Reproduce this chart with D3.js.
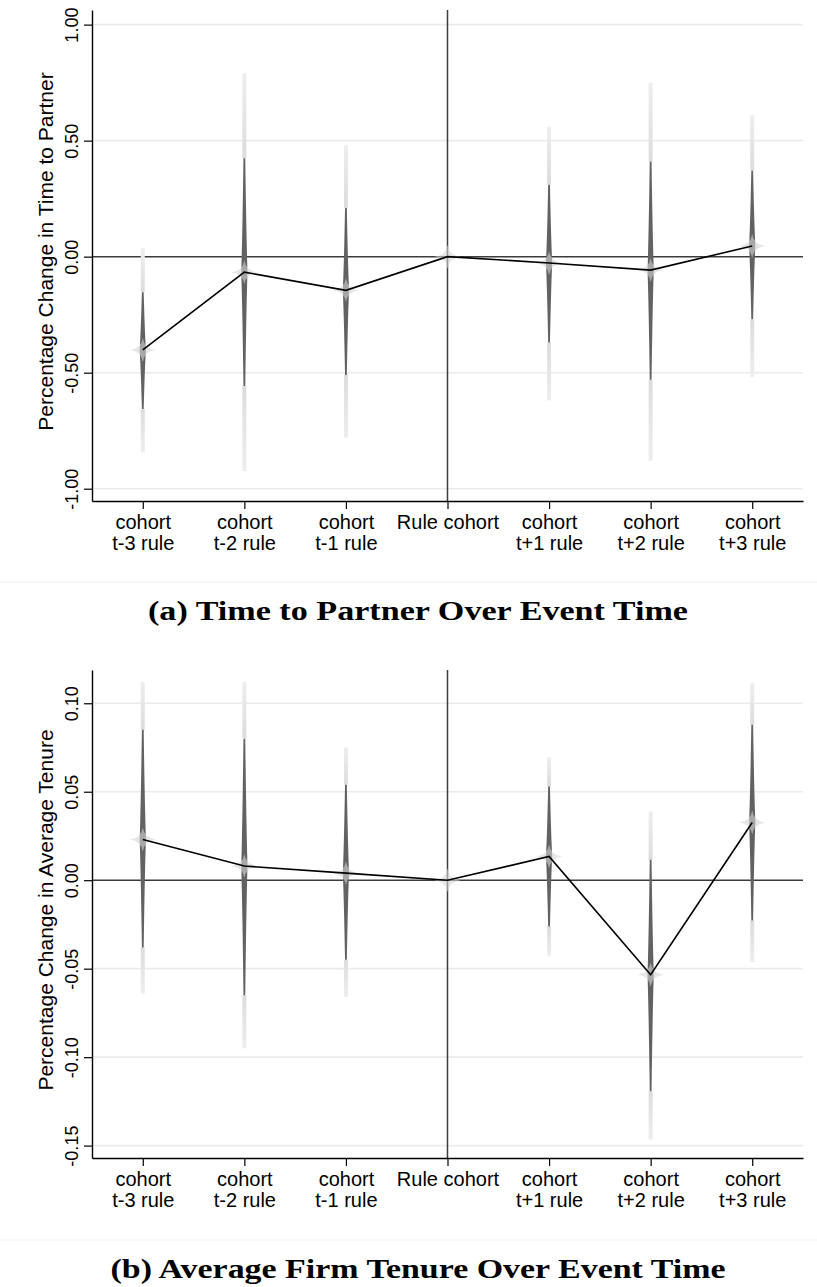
<!DOCTYPE html>
<html>
<head>
<meta charset="utf-8">
<script src="https://cdn.jsdelivr.net/npm/d3@7"></script>
<style>
  body { margin: 0; background: #fff; }
  svg { display: block; }
  .sans { font-family: "Liberation Sans", Arial, Helvetica, sans-serif; fill: #000; }
</style>
</head>
<body>
<div id="figure"></div>
<script>
// x categories (two label lines each)
const cohortPos = [1, 2, 3, 4, 5, 6, 7];
const cohortLine1 = ['cohort', 'cohort', 'cohort', 'Rule cohort', 'cohort', 'cohort', 'cohort'];
const cohortLine2 = ['t-3 rule', 't-2 rule', 't-1 rule', '', 't+1 rule', 't+2 rule', 't+3 rule'];

// panel (a): time to partner
const partnerTicks = [-1, -0.5, 0, 0.5, 1];
const partnerEst    = [-0.402, -0.067, -0.145, 0, -0.027, -0.058, 0.046];
const partnerDarkLo = [-0.657, -0.557, -0.510, 0, -0.370, -0.530, -0.270];
const partnerDarkHi = [-0.153,  0.424,  0.210, 0,  0.310,  0.410,  0.370];
const partnerLightLo = [-0.843, -0.924, -0.780, 0, -0.620, -0.880, -0.520];
const partnerLightHi = [ 0.036,  0.790,  0.480, 0,  0.560,  0.750,  0.610];

// panel (b): average firm tenure
const tenureTicks = [-0.15, -0.10, -0.05, 0, 0.05, 0.10];
const tenureEst    = [0.023, 0.008, 0.004, 0, 0.0134, -0.0534, 0.0326];
const tenureDarkLo = [-0.038, -0.065, -0.045, 0, -0.0261, -0.1193, -0.0228];
const tenureDarkHi = [ 0.085,  0.080,  0.054, 0,  0.0529,  0.0115,  0.0878];
const tenureLightLo = [-0.064, -0.095, -0.066, 0, -0.0427, -0.1466, -0.0463];
const tenureLightHi = [ 0.112,  0.112,  0.075, 0,  0.0695,  0.0388,  0.1113];

const W = 817, H = 1287;

const svg = d3.select('#figure').append('svg')
    .attr('width', W)
    .attr('height', H);

// light gray fades for the outer interval
const defs = svg.append('defs');
function addFade(id, from, to) {
    const g = defs.append('linearGradient').attr('id', id)
        .attr('x1', 0).attr('y1', 0).attr('x2', 0).attr('y2', 1);
    g.append('stop').attr('offset', '0%').attr('stop-color', from);
    g.append('stop').attr('offset', '100%').attr('stop-color', to);
}
addFade('fadeUp', '#eeeeee', '#dcdcdc');
addFade('fadeDown', '#dcdcdc', '#eeeeee');

function spikePath(cx, yt, yp, yb) {
    const e = 0.9, m = 3.1, c = 1.9;
    return `M${cx - e},${yt} L${cx + e},${yt}`
        + ` Q${cx + c},${yp - (yp - yt) * 0.35} ${cx + m},${yp}`
        + ` Q${cx + c},${yp + (yb - yp) * 0.35} ${cx + e},${yb}`
        + ` L${cx - e},${yb}`
        + ` Q${cx - c},${yp + (yb - yp) * 0.35} ${cx - m},${yp}`
        + ` Q${cx - c},${yp - (yp - yt) * 0.35} ${cx - e},${yt} Z`;
}

function starPath(cx, cy) {
    const h = 13, v = 12, k = 1.5;
    return `M${cx - h},${cy} Q${cx - k},${cy - k} ${cx},${cy - v}`
        + ` Q${cx + k},${cy - k} ${cx + h},${cy}`
        + ` Q${cx + k},${cy + k} ${cx},${cy + v}`
        + ` Q${cx - k},${cy + k} ${cx - h},${cy} Z`;
}

function drawPanel(cfg) {
    const x = d3.scaleLinear().domain([0.5, 7.5]).range([92, 803]);
    const y = d3.scaleLinear().domain(cfg.yDomain).range([cfg.bottom, cfg.top]);
    const g = svg.append('g');

    // grid
    g.selectAll('.grid')
        .data(cfg.ticks.filter(d => d !== 0))
        .enter().append('line')
        .attr('class', 'grid')
        .attr('x1', x(0.5)).attr('x2', x(7.5))
        .attr('y1', d => y(d)).attr('y2', d => y(d))
        .attr('stroke', '#ebebeb')
        .attr('stroke-width', 1.6);

    // reference lines
    g.append('line')
        .attr('x1', x(0.5)).attr('x2', x(7.5))
        .attr('y1', y(0)).attr('y2', y(0))
        .attr('stroke', '#3c3c3c').attr('stroke-width', 1.5);
    g.append('line')
        .attr('x1', x(4)).attr('x2', x(4))
        .attr('y1', cfg.top).attr('y2', cfg.bottom)
        .attr('stroke', '#3c3c3c').attr('stroke-width', 1.5);

    const rows = cohortPos.map((p, i) => ({
        p: p, est: cfg.est[i],
        dLo: cfg.darkLo[i], dHi: cfg.darkHi[i],
        lLo: cfg.lightLo[i], lHi: cfg.lightHi[i]
    }));

    // outer interval, light bars
    g.selectAll('.lightUp')
        .data(rows.filter(d => d.lHi > d.dHi))
        .enter().append('rect')
        .attr('x', d => x(d.p) - 2).attr('width', 4)
        .attr('y', d => y(d.lHi))
        .attr('height', d => y(d.dHi) - y(d.lHi))
        .attr('fill', 'url(#fadeUp)');
    g.selectAll('.lightDown')
        .data(rows.filter(d => d.lLo < d.dLo))
        .enter().append('rect')
        .attr('x', d => x(d.p) - 2).attr('width', 4)
        .attr('y', d => y(d.dLo))
        .attr('height', d => y(d.lLo) - y(d.dLo))
        .attr('fill', 'url(#fadeDown)');

    // inner interval, dark tapered spikes
    g.selectAll('.spike')
        .data(rows.filter(d => d.dHi > d.dLo))
        .enter().append('path')
        .attr('d', d => spikePath(x(d.p), y(d.dHi), y(d.est), y(d.dLo)))
        .attr('fill', '#626262');

    // glow at the point estimate
    g.selectAll('.star')
        .data(rows)
        .enter().append('path')
        .attr('d', d => starPath(x(d.p), y(d.est)))
        .attr('fill', '#d6d6d6')
        .attr('opacity', 0.6);

    // connecting line
    const line = d3.line()
        .x(d => x(d.p))
        .y(d => y(d.est));
    g.append('path')
        .attr('d', line(rows))
        .attr('fill', 'none')
        .attr('stroke', '#000')
        .attr('stroke-width', 1.6);

    // y axis
    const yAxis = g.append('g')
        .attr('transform', 'translate(' + x(0.5) + ',0)')
        .call(d3.axisLeft(y).tickValues(cfg.ticks).tickSize(8).tickSizeOuter(0)
            .tickFormat(d => d.toFixed(2)));
    yAxis.select('.domain').attr('stroke-width', 1.4);
    yAxis.selectAll('.tick line').attr('stroke-width', 1.2);
    yAxis.selectAll('.tick text')
        .attr('class', 'sans')
        .attr('transform', 'rotate(-90)')
        .attr('x', 0).attr('y', -14).attr('dy', 0)
        .attr('text-anchor', 'middle')
        .style('font-size', '18px');

    // x axis
    const xAxis = g.append('g')
        .attr('transform', 'translate(0,' + cfg.bottom + ')')
        .call(d3.axisBottom(x).tickValues(cohortPos).tickSize(8).tickSizeOuter(0)
            .tickFormat(''));
    xAxis.select('.domain').attr('stroke-width', 1.4);
    xAxis.selectAll('.tick line').attr('stroke-width', 1.2);
    const lbl = xAxis.selectAll('.tick').append('text')
        .attr('class', 'sans')
        .attr('text-anchor', 'middle')
        .style('font-size', '20px');
    lbl.append('tspan').attr('x', 0).attr('y', 28).text((d, i) => cohortLine1[i]);
    lbl.append('tspan').attr('x', 0).attr('y', 49).text((d, i) => cohortLine2[i]);

    // y title
    g.append('text')
        .attr('class', 'sans')
        .attr('transform', 'translate(53,' + ((cfg.top + cfg.bottom) / 2 - 4) + ') rotate(-90)')
        .attr('text-anchor', 'middle')
        .style('font-size', '21px')
        .text(cfg.title);

    // caption
    svg.append('line')
        .attr('x1', 0).attr('x2', W)
        .attr('y1', cfg.sepY).attr('y2', cfg.sepY)
        .attr('stroke', '#efefef').attr('stroke-width', 1);
    svg.append('text')
        .attr('x', 418).attr('y', cfg.captionY)
        .attr('text-anchor', 'middle')
        .attr('textLength', cfg.captionLen)
        .attr('lengthAdjust', 'spacingAndGlyphs')
        .style('font-family', '"Liberation Serif", "DejaVu Serif", serif')
        .style('font-weight', 'bold')
        .style('font-size', '28px')
        .text(cfg.caption);
}

drawPanel({
    top: 10, bottom: 501, yDomain: [-1.053, 1.063], ticks: partnerTicks,
    est: partnerEst, darkLo: partnerDarkLo, darkHi: partnerDarkHi,
    lightLo: partnerLightLo, lightHi: partnerLightHi,
    title: 'Percentage Change in Time to Partner',
    caption: '(a) Time to Partner Over Event Time', captionLen: 540,
    sepY: 582, captionY: 620
});

drawPanel({
    top: 670, bottom: 1158, yDomain: [-0.157, 0.1188], ticks: tenureTicks,
    est: tenureEst, darkLo: tenureDarkLo, darkHi: tenureDarkHi,
    lightLo: tenureLightLo, lightHi: tenureLightHi,
    title: 'Percentage Change in Average Tenure',
    caption: '(b) Average Firm Tenure Over Event Time', captionLen: 615,
    sepY: 1240, captionY: 1278
});
</script>
</body>
</html>
